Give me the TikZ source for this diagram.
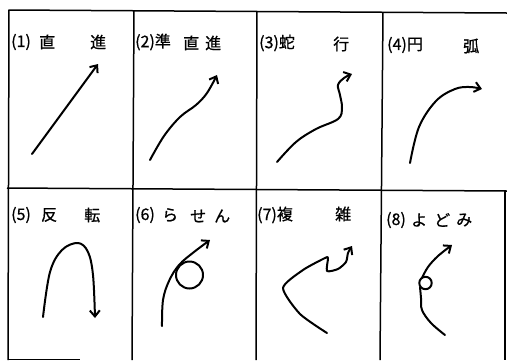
\documentclass[tikz,border=0pt]{standalone}
\usepackage{fontspec}
\setmainfont{Noto Sans CJK JP}[FakeBold=0.8]
\usetikzlibrary{arrows.meta}
\begin{document}
\begin{tikzpicture}[x=1pt,y=-1pt,
  frame/.style={line width=1.5pt,black},
  stroke/.style={line width=2pt,line cap=round,line join=round},
  arr/.style={stroke,-{Straight Barb[length=6pt,width=10pt,line width=2pt]}},
  lbl/.style={anchor=west,inner sep=0pt,font=\fontsize{16}{16}\selectfont}]
\useasboundingbox (0,0) rectangle (507,360);
% frame
\draw[frame] (507,13) -- (9,10) -- (8,360);
\draw[frame] (7,188) -- (507,191);
\draw[frame] (134,10) -- (132,360);
\draw[frame] (257,11) -- (256,360);
\draw[frame] (383,12) -- (380,360);
\draw[frame] (505,191) -- (505,360);
\draw[frame] (8,359.5) -- (80,359.5);
% labels
\node[lbl] (l1a) at (11,42) {(1)};
\node[lbl] (l1b) at (39,42) {直};
\node[lbl] (l1c) at (90,42) {進};
\node[lbl] (l2a) at (135,42) {(2)準};
\node[lbl] (l2b) at (183,43) {直};
\node[lbl] (l2c) at (205,43) {進};
\node[lbl] (l3a) at (259,43) {(3)蛇};
\node[lbl] (l3b) at (333,44) {行};
\node[lbl] (l4a) at (387,45) {(4)円};
\node[lbl] (l4b) at (463,46) {弧};
\node[lbl] (l5a) at (11,215) {(5)};
\node[lbl] (l5b) at (41,215) {反};
\node[lbl] (l5c) at (84,215) {転};
\node[lbl] (l6a) at (135,215) {(6)};
\node[lbl] (l6b) at (162,215) {ら};
\node[lbl] (l6c) at (190,216) {せ};
\node[lbl] (l6d) at (214,216) {ん};
\node[lbl] (l7a) at (257,215) {(7)複};
\node[lbl] (l7b) at (335,214) {雑};
\node[lbl] (l8a) at (386,220) {(8)};
\node[lbl] (l8b) at (411,220) {よ};
\node[lbl] (l8c) at (434,220) {ど};
\node[lbl] (l8d) at (456,220) {み};
% (1) straight
\draw[arr] (32,154) -- (98,64);
% (2) quasi-straight
\draw[arr] plot[smooth,tension=0.6] coordinates {(150,160) (164,136) (180,117) (196,105) (207,93) (217,75)};
% (3) meandering
\draw[arr] plot[smooth,tension=0.6] coordinates {(277,162) (296,142) (316,129) (338,119) (342,108) (340,95) (338,85) (344,78) (352,74)};
% (4) arc
\draw[arr] plot[smooth,tension=0.6] coordinates {(410,163) (419,127) (436,101) (455,89) (470,87) (482,89)};
% (5) reversal
\draw[arr] plot[smooth,tension=0.6] coordinates {(43,317) (50,272) (62,250) (78,243) (88,252) (93,275) (95,318)};
% (6) spiral
\draw[stroke] (189.5,275) circle (13.5);
\draw[arr] plot[smooth,tension=0.6] coordinates {(162,326) (163,300) (169,281) (179,265) (194,252) (210,240)};
% (7) complex
\draw[arr] plot[smooth,tension=0.4] coordinates {(327,333) (300,314) (283,288) (303,270) (325,258) (328,258) (327,271) (338,269) (346,262) (348,253) (352,246)};
% (8) stagnation
\draw[stroke] plot[smooth,tension=0.6] coordinates {(445,335) (431,323) (422,310) (421,298) (420,287)};
\draw[stroke] (425.5,283) circle (6.2);
\draw[arr] plot[smooth,tension=0.6] coordinates {(422,278) (428,267) (438,256) (452,245)};
\end{tikzpicture}
\end{document}
